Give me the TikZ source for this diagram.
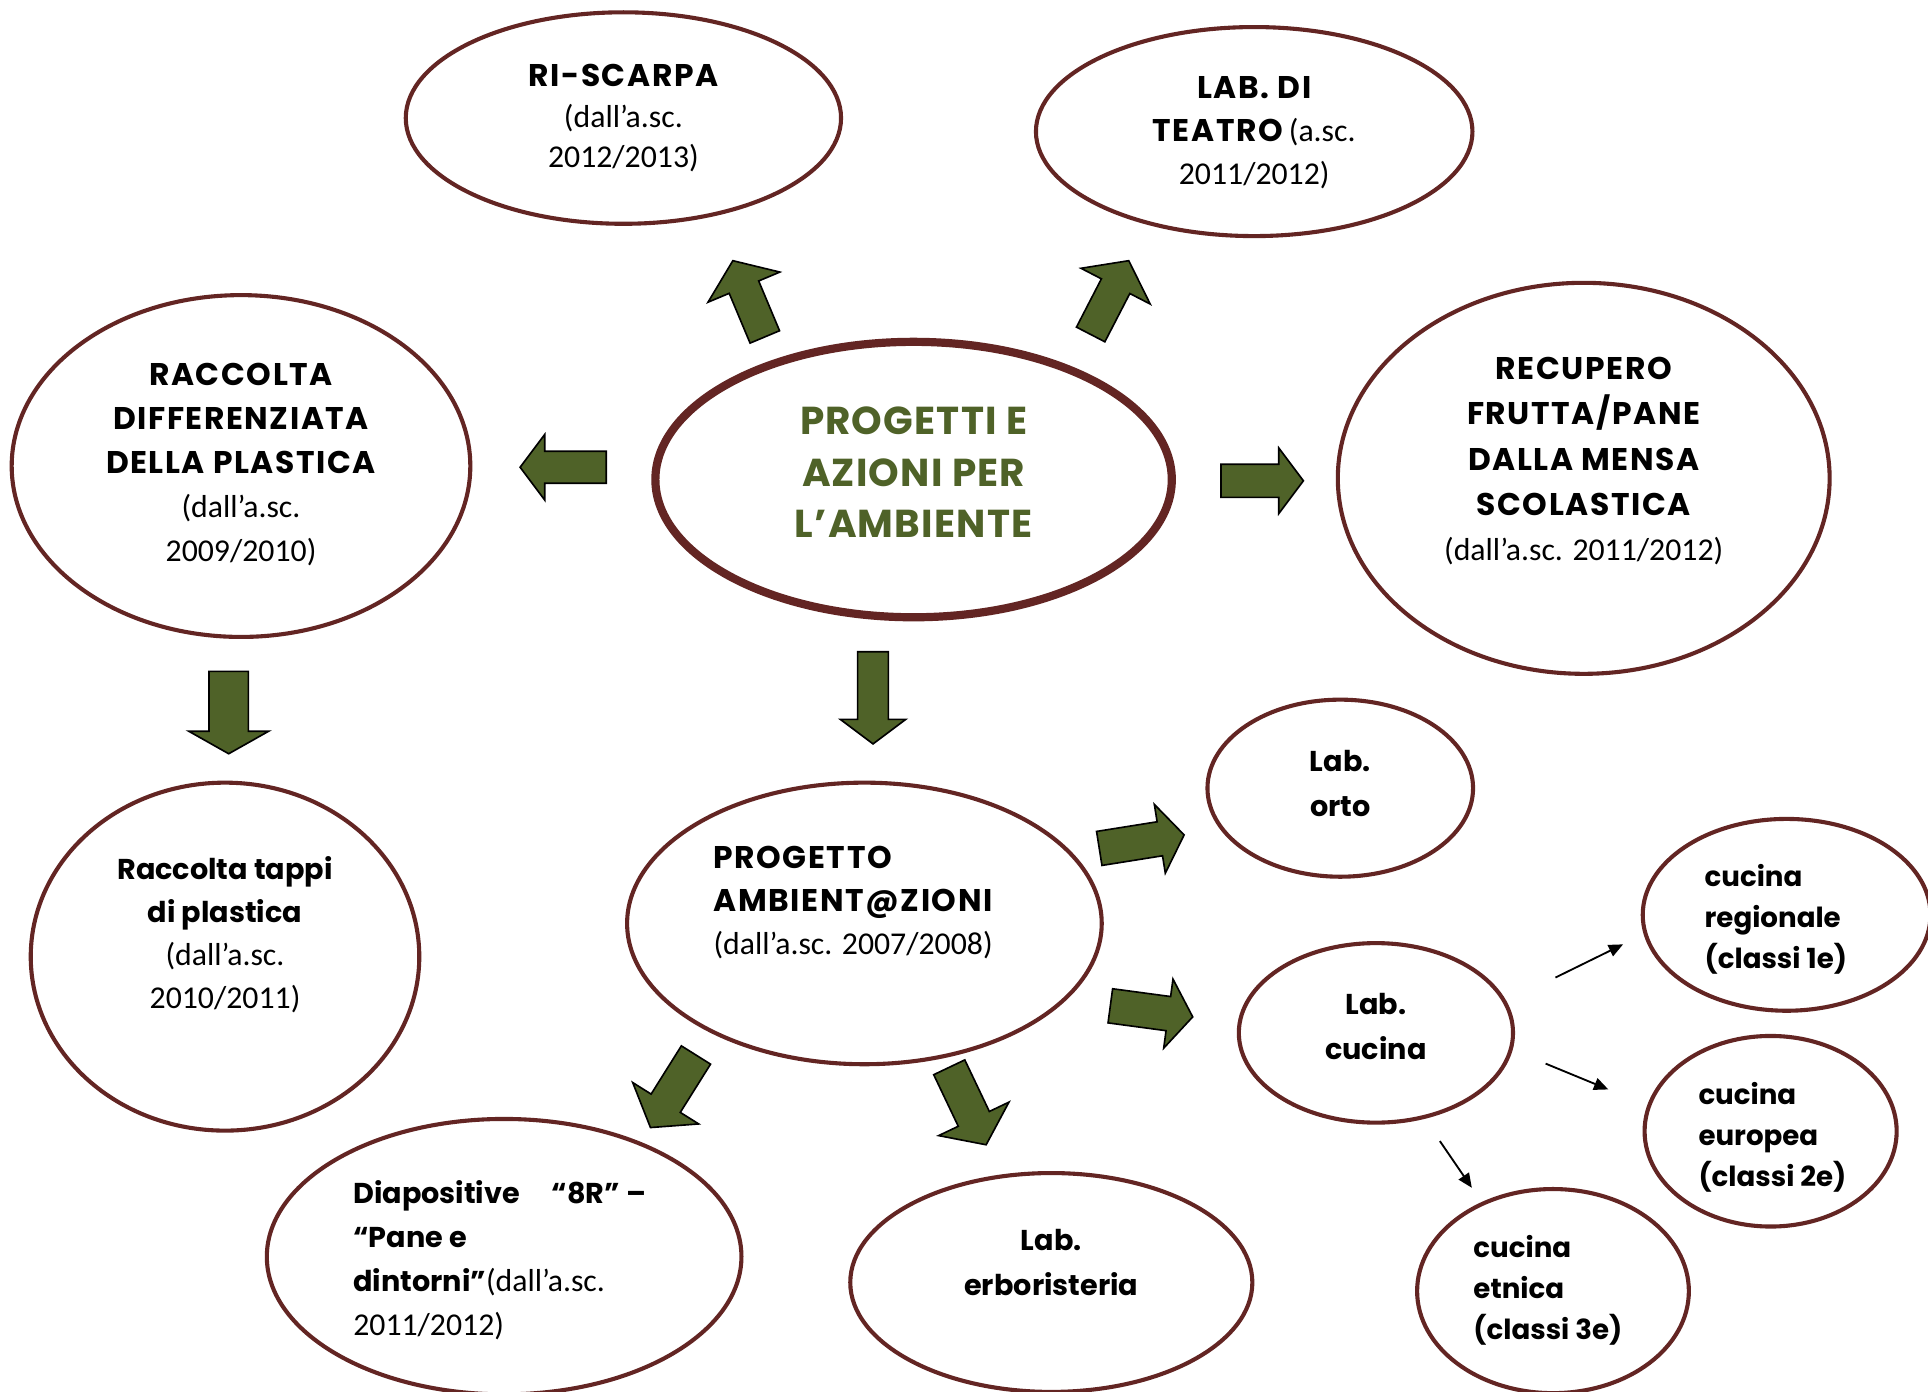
\documentclass[tikz,border=0pt]{standalone}
\usepackage{fontspec}
\setmainfont{Poppins}
\newfontfamily\thinf{Carlito}
\usetikzlibrary{shapes.geometric,calc,arrows.meta}
\definecolor{ovalred}{HTML}{632523}
\definecolor{leaf}{HTML}{4F6228}
\tikzset{
 oval/.style={ellipse, draw=ovalred, line width=2pt, inner sep=0pt, fill=white},
 bigoval/.style={oval, line width=4pt},
 txt/.style={font=\fontsize{14}{21}\selectfont\bfseries, align=center, inner sep=0pt},
 blockarr/.style={draw=black, fill=leaf, line width=0.8pt, line join=miter},
 thinarr/.style={-{Triangle[length=7pt,width=6pt]}, line width=0.9pt},
}
\newcommand\rg[1]{{\thinf\mdseries\fontsize{15.5}{21}\selectfont #1}}
\newcommand\caps[1]{{\fontsize{15.3}{21}\selectfont\addfontfeature{LetterSpace=5}#1}}
\newcommand\ov[6][oval]{\node[#1, minimum width=#5*0.6pt, minimum height=#6*0.6pt] (#2) at (#3,#4) {};}
\newcommand\garr[6]{%
 \coordinate (#1-hb) at ($(#3)!#6!(#2)$);
 \draw[blockarr] ($(#2)!#4!90:(#3)$) -- ($(#1-hb)!#4!-90:(#2)$) -- ($(#1-hb)!#5!-90:(#2)$) -- (#3) -- ($(#1-hb)!#5!90:(#2)$) -- ($(#1-hb)!#4!90:(#2)$) -- ($(#2)!#4!-90:(#3)$) -- cycle;}
\begin{document}
\begin{tikzpicture}[x=0.6pt,y=-0.6pt]
\useasboundingbox (0,0) rectangle (1568,1132);
\clip (0,0) rectangle (1568,1132);
% ellipses
\ov{riscarpa}{507}{96}{354}{172}
\ov{teatro}{1020}{107}{355}{170}
\ov{raccolta}{196}{379}{373}{278}
\ov[bigoval]{central}{743}{390}{420}{224}
\ov{recupero}{1288}{389}{400}{318}
\ov{tappi}{183}{778}{316}{283}
\ov{progetto}{703}{751}{386}{229}
\ov{orto}{1090}{641}{216}{144}
\ov{cucina}{1119}{840}{223}{146}
\ov{regionale}{1453}{744}{234}{156}
\ov{europea}{1440}{920}{205}{155}
\ov{etnica}{1263}{1050}{221}{166}
\ov{diapositive}{410}{1022}{386}{224}
\ov{erboristeria}{855}{1043}{327}{178}
% texts
\node[txt, font=\fontsize{14}{20}\selectfont\bfseries] (riscarpa-t) at (507,96) {\caps{RI-SCARPA}\\ \rg{(dall’a.sc.}\\ \rg{2012/2013)}};
\node[txt] (teatro-t) at (1020,108) {\caps{LAB.\ DI}\\ \caps{TEATRO} \rg{(a.sc.}\\ \rg{2011/2012)}};
\node[txt, font=\fontsize{14}{21.5}\selectfont\bfseries] (raccolta-t) at (196,378) {\caps{RACCOLTA}\\ \caps{DIFFERENZIATA}\\ \caps{DELLA PLASTICA}\\ \rg{(dall’a.sc.}\\ \rg{2009/2010)}};
\node[txt, text=leaf, font=\fontsize{19}{25}\selectfont\bfseries] (central-t) at (743,384) {{\addfontfeature{LetterSpace=3}PROGETTI E}\\ {\addfontfeature{LetterSpace=3}AZIONI PER}\\ {\addfontfeature{LetterSpace=3}L’AMBIENTE}};
\node[txt, font=\fontsize{14}{22}\selectfont\bfseries] (recupero-t) at (1288,375) {\caps{RECUPERO}\\ \caps{FRUTTA/PANE}\\ \caps{DALLA MENSA}\\ \caps{SCOLASTICA}\\ \rg{(dall’a.sc. 2011/2012)}};
\node[txt] (tappi-t) at (183,760) {Raccolta tappi\\ di plastica\\ \rg{(dall’a.sc.}\\ \rg{2010/2011)}};
\node[txt, align=left, anchor=west] (progetto-t) at (580,734) {\caps{PROGETTO}\\ \caps{AMBIENT@ZIONI}\\ \rg{(dall’a.sc. 2007/2008)}};
\node[txt, font=\fontsize{14}{22}\selectfont\bfseries] (orto-t) at (1090,637) {Lab.\\ orto};
\node[txt, font=\fontsize{14}{22}\selectfont\bfseries] (cucina-t) at (1119,835) {Lab.\\ cucina};
\node[txt, align=left, anchor=west, font=\fontsize{13.5}{20}\selectfont\bfseries] (regionale-t) at (1386,748) {cucina\\ regionale\\ (classi 1e)};
\node[txt, align=left, anchor=west, font=\fontsize{13.5}{20}\selectfont\bfseries] (europea-t) at (1381,925) {cucina\\ europea\\ (classi 2e)};
\node[txt, align=left, anchor=west, font=\fontsize{13.5}{20}\selectfont\bfseries] (etnica-t) at (1198,1049) {cucina\\ etnica\\ (classi 3e)};
\node[txt, align=left, anchor=west, font=\fontsize{14}{21.4}\selectfont\bfseries] (diapositive-t) at (287,1025) {Diapositive\hspace{1.1em}“8R” –\\ “Pane e\\ dintorni”\rg{(dall’a.sc.}\\ \rg{2011/2012)}};
\node[txt, font=\fontsize{14}{22}\selectfont\bfseries] (erboristeria-t) at (855,1027) {Lab.\\ erboristeria};
% block arrows
\coordinate (a1t) at (622,274); \coordinate (a1h) at (596,212);
\coordinate (a2t) at (887,272); \coordinate (a2h) at (918,212);
\coordinate (a3t) at (993,391); \coordinate (a3h) at (1060,391);
\coordinate (a4t) at (493,380); \coordinate (a4h) at (423,380);
\coordinate (a5t) at (710,530); \coordinate (a5h) at (710,605);
\coordinate (a6t) at (186,546); \coordinate (a6h) at (186,613);
\coordinate (a7t) at (894,690); \coordinate (a7h) at (963,679);
\coordinate (a8t) at (903,818); \coordinate (a8h) at (970,827);
\coordinate (a9t) at (566,858); \coordinate (a9h) at (529,917);
\coordinate (a10t) at (772,868); \coordinate (a10h) at (802,931);
\garr{a1}{a1t}{a1h}{7.8pt}{19pt}{14pt}
\garr{a2}{a2t}{a2h}{7.8pt}{19pt}{14pt}
\garr{a3}{a3t}{a3h}{8.1pt}{16pt}{12pt}
\garr{a4}{a4t}{a4h}{7.8pt}{16pt}{12pt}
\garr{a5}{a5t}{a5h}{7.5pt}{16pt}{12pt}
\garr{a6}{a6t}{a6h}{9.6pt}{19.5pt}{11pt}
\garr{a7}{a7t}{a7h}{8.4pt}{17pt}{12pt}
\garr{a8}{a8t}{a8h}{8.4pt}{17pt}{12pt}
\garr{a9}{a9t}{a9h}{8.4pt}{19pt}{14pt}
\garr{a10}{a10t}{a10h}{8.4pt}{19pt}{14pt}
% thin arrows
\coordinate (b1s) at (1265,795); \coordinate (b1e) at (1320,768);
\coordinate (b2s) at (1257,865); \coordinate (b2e) at (1308,886);
\coordinate (b3s) at (1171,928); \coordinate (b3e) at (1197,966);
\draw[thinarr] (b1s) -- (b1e);
\draw[thinarr] (b2s) -- (b2e);
\draw[thinarr] (b3s) -- (b3e);
\end{tikzpicture}
\end{document}
